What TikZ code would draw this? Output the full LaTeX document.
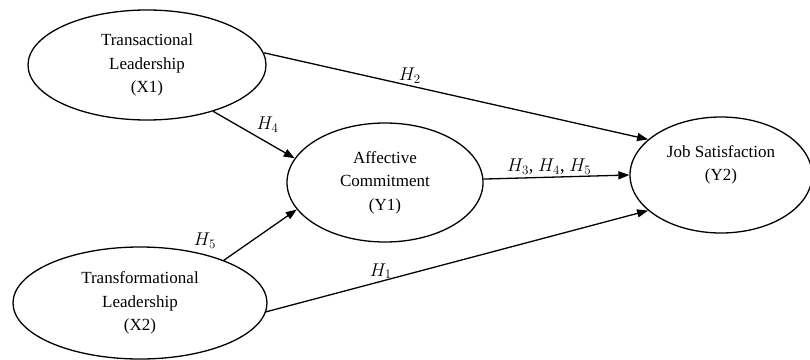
\documentclass[tikz,border=0pt]{standalone}
\RequirePackage{fix-cm}
\usepackage{fontspec}
\setmainfont{Liberation Serif}
\usepackage{amsmath}
\usetikzlibrary{shapes.geometric, positioning, arrows.meta}

\begin{document}
\begin{tikzpicture}[x=1pt,y=-1pt,on grid,line width=1.3pt,
    >={Triangle[length=11pt,width=8pt]},
    latent/.style={ellipse,draw,inner sep=0pt,align=center,
      font=\fontsize{17}{23.5}\selectfont},
    hyp/.style={font=\fontsize{18.5}{20}\selectfont,inner sep=2pt}]
   \useasboundingbox (0,0) rectangle (810,359);
   \clip (0,0) rectangle (810,359);
   \node[latent,minimum width=238pt,minimum height=110pt] (x1) at (147,65)
      {Transactional\\Leadership\\(X1)};
   \node[latent,minimum width=254pt,minimum height=112pt] (x2)
      [below left=238pt and 7pt of x1] {Transformational\\Leadership\\(X2)};
   \node[latent,minimum width=196pt,minimum height=119pt] (y1)
      [below right=117.5pt and 238pt of x1] {Affective\\Commitment\\(Y1)};
   \node[latent,minimum width=182pt,minimum height=116pt] (y2)
      [above right=7.5pt and 336pt of y1] {Job Satisfaction\\(Y2)\\\mbox{}};
    \draw[->] (x1.6) -- node[hyp,pos=0.38,above] {$H_2$} (y2.154);
    \draw[->] (x1.-35) -- node[hyp,pos=0.5,above right] {$H_4$} (y1.165);
    \draw[->] (x2.27) -- node[hyp,pos=0.05,above left,xshift=-9pt,yshift=7pt] {$H_5$} (y1.-163);
    \draw[->] (x2.-4) -- node[hyp,pos=0.3,above] {$H_1$} (y2.206);
    \draw[->] (y1.2) -- node[hyp,pos=0.45,above] {$H_3$, $H_4$, $H_5$} (y2.west);
\end{tikzpicture}
\end{document}
